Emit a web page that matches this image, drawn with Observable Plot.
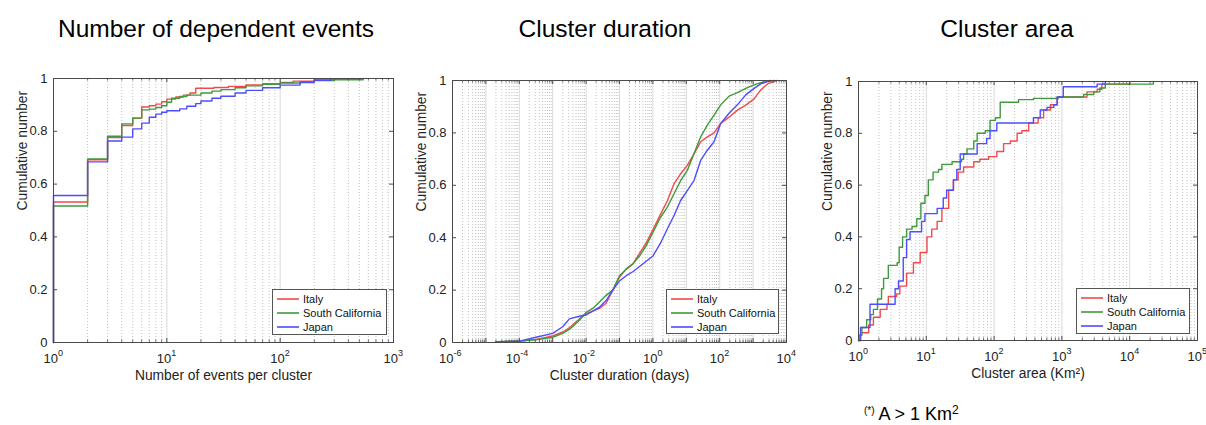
<!DOCTYPE html>
<html><head><meta charset="utf-8">
<script src="https://cdn.jsdelivr.net/npm/d3@7"></script>
<script src="https://cdn.jsdelivr.net/npm/@observablehq/plot@0.6"></script>
<style>
body{margin:0;background:#fff;font-family:"Liberation Sans",Arial,sans-serif;}
#root{position:relative;width:1206px;height:425px;overflow:hidden;background:#fff;}
.title{position:absolute;font-size:24.5px;color:#000;transform:translateX(-50%);white-space:nowrap;line-height:1;}
.panel{position:absolute;}
.legend{position:absolute;border:1px solid #555;background:#fff;font-size:11px;color:#111;box-sizing:border-box;padding:2px 0 0 4px;z-index:5;}
.legend .row{height:14px;line-height:14px;white-space:nowrap;display:flex;align-items:center;}
.legend svg{margin-right:4px;flex:none;}
.note{position:absolute;left:864px;top:404px;font-size:18px;color:#000;white-space:nowrap;line-height:1;}
</style>
</head><body>
<div id="root"></div>
<script>
// ---------- data ----------
const seriesNames = ["Italy", "South California", "Japan"];
const seriesColors = ["#f24a4a", "#3d9a3d", "#4d4dff"];
const yTickValues = [0, 0.2, 0.4, 0.6, 0.8, 1];

// Panel 1: number of events per cluster (x) vs cumulative number (y)
const eventsItalyX = [1, 1, 2, 3, 4, 5, 6, 7, 8, 9, 10, 12, 14, 16, 18, 26, 35, 50, 70, 100, 130, 200, 300, 430];
const eventsItalyY = [0, 0.532, 0.692, 0.776, 0.822, 0.85, 0.892, 0.897, 0.903, 0.912, 0.922, 0.93, 0.937, 0.945, 0.963, 0.966, 0.97, 0.976, 0.98, 0.985, 0.99, 0.995, 0.997, 1.0];
const eventsCalX = [1, 1, 2, 3, 4, 5, 6, 7, 8, 9, 10, 11, 13, 15, 20, 25, 30, 40, 50, 70, 100, 150, 200, 300, 540];
const eventsCalY = [0, 0.517, 0.695, 0.781, 0.828, 0.85, 0.881, 0.884, 0.89, 0.897, 0.91, 0.925, 0.932, 0.937, 0.945, 0.952, 0.958, 0.965, 0.972, 0.978, 0.983, 0.988, 0.992, 0.995, 1.0];
const eventsJapanX = [1, 1, 2, 3, 4, 5, 6, 7, 8, 9, 10, 13, 15, 18, 20, 25, 30, 40, 50, 70, 100, 150, 200, 280];
const eventsJapanY = [0, 0.557, 0.684, 0.763, 0.778, 0.809, 0.831, 0.853, 0.865, 0.872, 0.878, 0.885, 0.895, 0.905, 0.915, 0.925, 0.933, 0.945, 0.955, 0.965, 0.975, 0.985, 0.993, 1.0];

// Panel 2: cluster duration (days), x given as log10(days)
const durItalyLogX = [-4.7, -4.0, -3.5, -3.0, -2.7, -2.5, -2.2, -2.0, -1.8, -1.6, -1.4, -1.2, -1.0, -0.8, -0.6, -0.4, -0.2, 0, 0.23, 0.43, 0.63, 0.83, 1.03, 1.23, 1.43, 1.63, 1.83, 2.03, 2.28, 2.53, 2.78, 3.03, 3.23, 3.43, 3.63, 3.7];
const durItalyY    = [0.002, 0.005, 0.012, 0.025, 0.04, 0.056, 0.09, 0.11, 0.12, 0.13, 0.15, 0.2, 0.25, 0.28, 0.3, 0.34, 0.38, 0.43, 0.49, 0.54, 0.605, 0.644, 0.676, 0.72, 0.766, 0.785, 0.80, 0.836, 0.86, 0.887, 0.906, 0.93, 0.964, 0.987, 0.996, 1.0];
const durCalLogX = [-4.7, -4.0, -3.5, -3.0, -2.7, -2.5, -2.2, -2.0, -1.8, -1.6, -1.4, -1.2, -1.0, -0.8, -0.6, -0.4, -0.2, 0, 0.23, 0.43, 0.63, 0.83, 1.03, 1.23, 1.43, 1.63, 1.83, 2.03, 2.28, 2.53, 2.78, 3.03, 3.23, 3.43, 3.53];
const durCalY    = [0.003, 0.006, 0.01, 0.02, 0.035, 0.05, 0.085, 0.115, 0.13, 0.155, 0.18, 0.2, 0.255, 0.28, 0.3, 0.33, 0.37, 0.42, 0.478, 0.516, 0.567, 0.618, 0.657, 0.72, 0.785, 0.83, 0.868, 0.907, 0.94, 0.954, 0.97, 0.983, 0.992, 0.997, 1.0];
const durJapanLogX = [-4.7, -4.0, -3.5, -3.0, -2.7, -2.5, -2.2, -2.0, -1.8, -1.6, -1.4, -1.2, -1.0, -0.8, -0.6, -0.4, -0.2, 0, 0.23, 0.43, 0.63, 0.83, 1.03, 1.23, 1.43, 1.63, 1.83, 2.03, 2.28, 2.53, 2.78, 3.03, 3.23, 3.43, 3.63];
const durJapanY    = [0.002, 0.005, 0.02, 0.035, 0.06, 0.09, 0.1, 0.105, 0.12, 0.135, 0.16, 0.2, 0.235, 0.255, 0.27, 0.29, 0.31, 0.33, 0.38, 0.433, 0.484, 0.542, 0.58, 0.618, 0.695, 0.734, 0.766, 0.836, 0.875, 0.907, 0.945, 0.97, 0.987, 0.996, 1.0];

// Panel 3: cluster area (Km2), x given as log10(Km2)
const areaItalyLogX = [0, 0.03, 0.15, 0.22, 0.32, 0.42, 0.44, 0.56, 0.61, 0.71, 0.81, 0.91, 1.01, 1.08, 1.16, 1.23, 1.33, 1.4, 1.47, 1.55, 1.7, 1.79, 1.92, 2.04, 2.14, 2.24, 2.34, 2.41, 2.51, 2.65, 2.73, 2.83, 2.93, 3.37, 3.52, 3.59, 4.0];
const areaItalyY    = [0, 0.03, 0.06, 0.09, 0.12, 0.14, 0.17, 0.18, 0.21, 0.26, 0.3, 0.34, 0.4, 0.43, 0.46, 0.51, 0.58, 0.62, 0.65, 0.67, 0.69, 0.7, 0.71, 0.73, 0.76, 0.77, 0.8, 0.81, 0.84, 0.86, 0.89, 0.91, 0.94, 0.96, 0.97, 0.99, 1.0];
const areaCalLogX = [0, 0.01, 0.05, 0.12, 0.18, 0.22, 0.28, 0.34, 0.37, 0.44, 0.57, 0.6, 0.65, 0.71, 0.79, 0.86, 0.92, 0.98, 1.03, 1.1, 1.18, 1.23, 1.38, 1.52, 1.55, 1.6, 1.7, 1.75, 1.87, 1.94, 2.02, 2.09, 2.36, 2.58, 2.95, 3.32, 3.47, 3.56, 3.64, 4.35];
const areaCalY    = [0, 0.02, 0.05, 0.08, 0.1, 0.12, 0.16, 0.2, 0.24, 0.29, 0.3, 0.36, 0.4, 0.43, 0.44, 0.47, 0.53, 0.56, 0.62, 0.65, 0.66, 0.68, 0.69, 0.7, 0.72, 0.74, 0.77, 0.8, 0.81, 0.85, 0.86, 0.92, 0.93, 0.935, 0.94, 0.95, 0.96, 0.975, 0.99, 1.0];
const areaJapanLogX = [0, 0.03, 0.17, 0.54, 0.59, 0.66, 0.71, 0.76, 0.93, 0.98, 1.16, 1.25, 1.3, 1.4, 1.45, 1.5, 1.75, 1.89, 1.94, 2.04, 2.58, 2.68, 2.78, 2.88, 2.93, 3.02, 3.52, 3.64];
const areaJapanY    = [0, 0.05, 0.14, 0.2, 0.23, 0.32, 0.39, 0.42, 0.46, 0.49, 0.51, 0.55, 0.58, 0.62, 0.66, 0.72, 0.76, 0.78, 0.81, 0.84, 0.86, 0.89, 0.9, 0.91, 0.94, 0.98, 0.99, 1.0];

// axes decades (exponents of 10) used as tick labels
const eventsDecades = [0, 1, 2, 3];
const durDecades = [-6, -4, -2, 0, 2, 4];
const areaDecades = [0, 1, 2, 3, 4, 5];

// ---------- helpers ----------
const toRows = (xs, ys) => xs.map((x, i) => ({x, y: ys[i]}));
const toRowsLog = (ls, ys) => ls.map((l, i) => ({x: Math.pow(10, l), y: ys[i]}));

function makePanel(cfg) {
  const {width, height, ml, mr, mt, mb, labelDecades, series, curve, xLabel} = cfg;
  const pw = width - ml - mr, ph = height - mt - mb;
  const lo = labelDecades[0], hi = labelDecades[labelDecades.length - 1];
  const major = [], minor = [];
  for (let e = lo; e <= hi; e++) major.push(Math.pow(10, e));
  for (let e = lo; e < hi; e++) for (let k = 2; k <= 9; k++) minor.push(k * Math.pow(10, e));
  const negDec = labelDecades.filter(e => e < 0);
  const posDec = labelDecades.filter(e => e >= 0);
  const tickText = {fontSize: 13, fill: "#222", frameAnchor: "bottom", lineAnchor: "middle"};
  const marks = [
    Plot.gridX(minor, {stroke: "#a8a8a8", strokeOpacity: 1, strokeDasharray: "1,2", strokeWidth: 0.7}),
    Plot.gridX(major, {stroke: "#d9d9d9", strokeOpacity: 1, strokeWidth: 1}),
  ];
  series.forEach((rows, i) => {
    marks.push(Plot.line(rows, {x: "x", y: "y", stroke: seriesColors[i], strokeWidth: 1.4, curve}));
  });
  marks.push(
    Plot.frame({stroke: "#4a4a4a", strokeWidth: 1}),
    Plot.tickY(yTickValues, {y: d => d, insetRight: pw - 4, stroke: "#4a4a4a"}),
    Plot.tickY(yTickValues, {y: d => d, insetLeft: pw - 4, stroke: "#4a4a4a"}),
    Plot.tickX(major, {x: d => d, insetBottom: ph - 4, stroke: "#4a4a4a"}),
    Plot.tickX(major, {x: d => d, insetTop: ph - 4, stroke: "#4a4a4a"}),
    Plot.tickX(minor, {x: d => d, insetBottom: ph - 2.5, stroke: "#4a4a4a", strokeWidth: 0.8}),
    Plot.tickX(minor, {x: d => d, insetTop: ph - 2.5, stroke: "#4a4a4a", strokeWidth: 0.8}),
    Plot.axisY(yTickValues, {tickSize: 0, tickPadding: 6, tickFormat: d => String(d), label: null, fontSize: 13, fill: "#222"}),
    Plot.text(posDec, {...tickText, x: e => Math.pow(10, e), dy: 16, dx: 4.5, text: () => "10", textAnchor: "end"}),
    Plot.text(posDec, {...tickText, x: e => Math.pow(10, e), dy: 11, dx: 4.5, text: e => String(e), textAnchor: "start", fontSize: 9}),
    Plot.text(negDec, {...tickText, x: e => Math.pow(10, e), dy: 16, dx: 1, text: () => "10", textAnchor: "end"}),
    Plot.text(negDec, {...tickText, x: e => Math.pow(10, e), dy: 11, dx: 1, text: e => String(e), textAnchor: "start", fontSize: 9}),
    Plot.text([xLabel], {frameAnchor: "bottom", lineAnchor: "middle", dy: 33, text: d => d, fontSize: 13.8, fill: "#222"}),
    Plot.text(["Cumulative number"], {frameAnchor: "left", lineAnchor: "middle", dx: -31, rotate: -90, text: d => d, fontSize: 13.8, fill: "#222"})
  );
  return Plot.plot({
    width, height, marginLeft: ml, marginRight: mr, marginTop: mt, marginBottom: mb,
    x: {type: "log", domain: [Math.pow(10, lo), Math.pow(10, hi)], axis: null},
    y: {domain: [0, 1], axis: null},
    style: {fontFamily: "Liberation Sans, Arial, sans-serif", background: "transparent", overflow: "visible"},
    marks
  });
}

const root = document.getElementById("root");
function place(el, left, top) {
  el.classList.add("panel");
  el.style.left = left + "px";
  el.style.top = top + "px";
  root.appendChild(el);
}
function addTitle(text, cx) {
  const d = document.createElement("div");
  d.className = "title";
  d.textContent = text;
  d.style.left = cx + "px";
  d.style.top = "17px";
  root.appendChild(d);
}
const SVGNS = "http://www.w3.org/2000/svg";
function addLegend(left, top, w, h) {
  const d = document.createElement("div");
  d.className = "legend";
  d.style.left = left + "px"; d.style.top = top + "px";
  d.style.width = w + "px"; d.style.height = h + "px";
  seriesNames.forEach((n, i) => {
    const r = document.createElement("div");
    r.className = "row";
    const s = document.createElementNS(SVGNS, "svg");
    s.setAttribute("width", "22"); s.setAttribute("height", "6");
    const l = document.createElementNS(SVGNS, "line");
    l.setAttribute("x1", "0"); l.setAttribute("x2", "22");
    l.setAttribute("y1", "3"); l.setAttribute("y2", "3");
    l.setAttribute("stroke", seriesColors[i]); l.setAttribute("stroke-width", "1.6");
    s.appendChild(l);
    r.appendChild(s);
    const t = document.createElement("span");
    t.textContent = n;
    r.appendChild(t);
    d.appendChild(r);
  });
  root.appendChild(d);
}

// Panel 1
place(makePanel({
  width: 400, height: 350, ml: 53, mr: 7, mt: 28, mb: 58,
  labelDecades: eventsDecades,
  series: [toRows(eventsItalyX, eventsItalyY), toRows(eventsCalX, eventsCalY), toRows(eventsJapanX, eventsJapanY)],
  curve: "step-after", xLabel: "Number of events per cluster"
}), 0, 50);

// Panel 2
place(makePanel({
  width: 405, height: 350, ml: 52, mr: 19, mt: 30, mb: 58,
  labelDecades: durDecades,
  series: [toRowsLog(durItalyLogX, durItalyY), toRowsLog(durCalLogX, durCalY), toRowsLog(durJapanLogX, durJapanY)],
  curve: "linear", xLabel: "Cluster duration (days)"
}), 400, 50);

// Panel 3
place(makePanel({
  width: 401, height: 350, ml: 53, mr: 9, mt: 31, mb: 60,
  labelDecades: areaDecades,
  series: [toRowsLog(areaItalyLogX, areaItalyY), toRowsLog(areaCalLogX, areaCalY), toRowsLog(areaJapanLogX, areaJapanY)],
  curve: "step-after", xLabel: "Cluster area (Km²)"
}), 805, 50);

addTitle("Number of dependent events", 216);
addTitle("Cluster duration", 605);
addTitle("Cluster area", 1007);

addLegend(272, 289, 115, 46);
addLegend(666, 289, 113, 45);
addLegend(1076, 288, 114, 46);

const note = document.createElement("div");
note.className = "note";
note.innerHTML = '<span style="font-size:10px;vertical-align:6px">(*)</span> A &gt; 1 Km<span style="font-size:12px;vertical-align:6px">2</span>';
root.appendChild(note);
</script>
</body></html>
